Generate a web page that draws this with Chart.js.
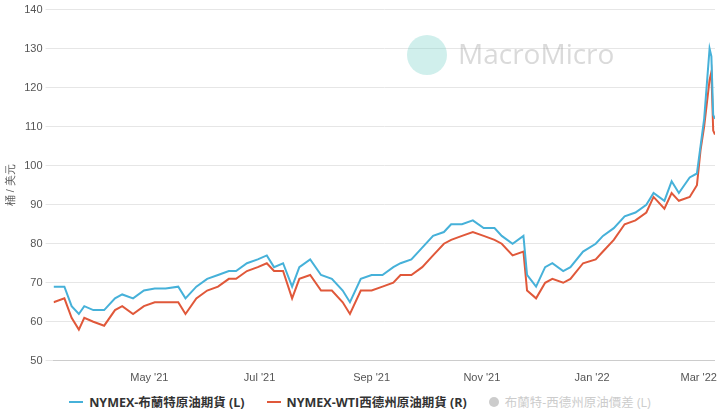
<!DOCTYPE html>
<html><head><meta charset="utf-8">
<script src="https://cdn.jsdelivr.net/npm/chart.js@4/dist/chart.umd.min.js"></script>
<style>
body{margin:0;background:#fff;font-family:"Open Sans","Noto Sans CJK TC",sans-serif;}
#wrap{width:720px;height:388px;position:relative}
#legend{display:flex;justify-content:center;gap:22px;font-size:12.5px;font-weight:bold;color:#333;margin-top:4px}
#legend span{display:flex;align-items:center}
.ln{display:inline-block;width:14px;height:2px;margin-right:6px}
.dot{display:inline-block;width:10px;height:10px;border-radius:50%;background:#ccc;margin-right:6px}
</style></head><body>
<div id="wrap"><canvas id="c"></canvas></div>
<div id="legend">
<span><i class="ln" style="background:#46b1d9"></i>NYMEX-布蘭特原油期貨 (L)</span>
<span><i class="ln" style="background:#e0583a"></i>NYMEX-WTI西德州原油期貨 (R)</span>
<span style="color:#ccc;font-weight:normal"><i class="dot"></i>布蘭特-西德州原油價差 (L)</span>
</div>
<script>
const dates = ['2021-03-09','2021-03-15','2021-03-19','2021-03-23','2021-03-26','2021-03-31','2021-04-06','2021-04-12','2021-04-16','2021-04-22','2021-04-28','2021-05-04','2021-05-10','2021-05-17','2021-05-21','2021-05-27','2021-06-02','2021-06-08','2021-06-14','2021-06-18','2021-06-24','2021-06-30','2021-07-05','2021-07-09','2021-07-14','2021-07-19','2021-07-23','2021-07-29','2021-08-04','2021-08-10','2021-08-16','2021-08-20','2021-08-26','2021-09-01','2021-09-07','2021-09-13','2021-09-17','2021-09-23','2021-09-29','2021-10-05','2021-10-11','2021-10-15','2021-10-21','2021-10-27','2021-11-02','2021-11-08','2021-11-12','2021-11-18','2021-11-24','2021-11-26','2021-12-01','2021-12-06','2021-12-10','2021-12-16','2021-12-20','2021-12-27','2022-01-03','2022-01-07','2022-01-13','2022-01-19','2022-01-25','2022-01-31','2022-02-04','2022-02-10','2022-02-14','2022-02-18','2022-02-24','2022-02-28','2022-03-02','2022-03-04','2022-03-07','2022-03-08','2022-03-09','2022-03-10'];
const brent = [69,69,64,62,64,63,63,66,67,66,68,68.5,68.5,69,66,69,71,72,73,73,75,76,77,74,75,69,74,76,72,71,68,65,71,72,72,74,75,76,79,82,83,85,85,86,84,84,82,80,82,72,69,74,75,73,74,78,80,82,84,87,88,90,93,91,96,93,97,98,105,112,130,128,113,112];
const wti = [65,66,61,58,61,60,59,63,64,62,64,65,65,65,62,66,68,69,71,71,73,74,75,73,73,66,71,72,68,68,65,62,68,68,69,70,72,72,74,77,80,81,82,83,82,81,80,77,78,68,66,70,71,70,71,75,76,78,81,85,86,88,92,89,93,91,92,95,104,110,122,124,109,108];
const tickDates = ['2021-05-01','2021-07-01','2021-09-01','2021-11-01','2022-01-01','2022-03-01'];
const tickLabels = ["May '21","Jul '21","Sep '21","Nov '21","Jan '22","Mar '22"];

const day = s => Date.parse(s) / 86400000;
const pts = vals => dates.map((d, i) => ({ x: day(d), y: vals[i] }));

const watermark = {
  id: 'wm',
  beforeDatasetsDraw(c) {
    const g = c.ctx;
    g.save();
    g.fillStyle = 'rgba(120,210,200,0.35)';
    g.beginPath(); g.arc(427, 55, 20, 0, Math.PI * 2); g.fill();
    g.fillStyle = 'rgba(150,150,150,0.35)';
    g.font = '28px "Open Sans"';
    g.textBaseline = 'middle';
    g.fillText('MacroMicro', 458, 56);
    g.restore();
  }
};

new Chart(document.getElementById('c'), {
  type: 'line',
  data: {
    datasets: [
      { label: 'NYMEX-布蘭特原油期貨 (L)', data: pts(brent), borderColor: '#46b1d9', borderWidth: 2, pointRadius: 0, tension: 0 },
      { label: 'NYMEX-WTI西德州原油期貨 (R)', data: pts(wti), borderColor: '#e0583a', borderWidth: 2, pointRadius: 0, tension: 0 }
    ]
  },
  options: {
    responsive: true, maintainAspectRatio: false, animation: false,
    layout: { padding: { right: 4, top: 2 } },
    plugins: { legend: { display: false }, tooltip: { enabled: false } },
    scales: {
      x: {
        type: 'linear', min: day('2021-03-09'), max: day('2022-03-10'),
        afterBuildTicks: ax => { ax.ticks = tickDates.map(d => ({ value: day(d) })); },
        ticks: { callback: (v, i) => tickLabels[i], color: '#555', font: { size: 11 }, maxRotation: 0 },
        grid: { display: false }, border: { color: '#ccc' }
      },
      y: {
        min: 50, max: 140,
        ticks: { stepSize: 10, color: '#555', font: { size: 11 } },
        grid: { color: '#e6e6e6' }, border: { display: false },
        title: { display: true, text: '桶 / 美元', color: '#555', font: { size: 11 } }
      }
    }
  },
  plugins: [watermark]
});
</script>
</body></html>
